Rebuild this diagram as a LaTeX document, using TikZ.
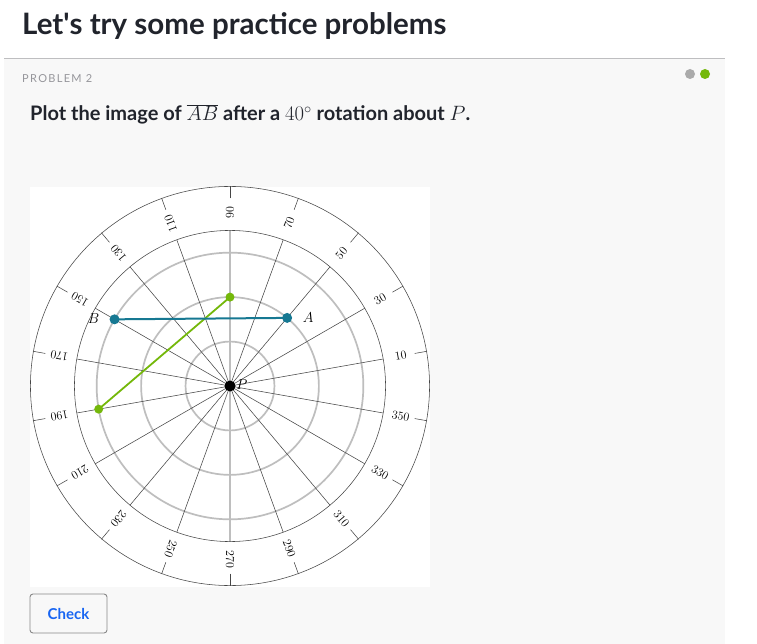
\documentclass[tikz,border=0pt]{standalone}
\usepackage{fontspec}
\setmainfont{Lato}
\definecolor{cardbg}{RGB}{248,248,248}
\definecolor{rulegray}{RGB}{190,190,192}
\definecolor{titlec}{RGB}{33,36,44}
\definecolor{labgray}{RGB}{150,150,155}
\definecolor{dotgray}{RGB}{170,170,170}
\definecolor{kagreen}{RGB}{116,184,10}
\definecolor{kateal}{RGB}{22,120,146}
\definecolor{circgray}{RGB}{190,190,190}
\definecolor{linegray}{RGB}{70,70,70}
\definecolor{checkblue}{RGB}{24,101,242}
\definecolor{btnborder}{RGB}{136,136,136}
\tikzset{
  thinline/.style={draw=linegray, line width=0.55pt},
  gridring/.style={draw=circgray, line width=1.7pt},
  ptdot/.style={circle, inner sep=0pt, minimum size=9pt},
  anglab/.style={font=\fontsize{11.5}{13}\selectfont, inner sep=0pt, text=black},
  ptlab/.style={font=\fontsize{14}{16}\selectfont, inner sep=0pt}
}
\begin{document}
\begin{tikzpicture}[x=1pt,y=-1pt]
\useasboundingbox (0,0) rectangle (757,644);
\fill[white] (0,0) rectangle (757,644);
\fill[cardbg] (4,59) rectangle (725,644);
\draw[rulegray, line width=1pt] (4,59) -- (725,59);
\node[anchor=base west, inner sep=0pt, text=titlec, font=\fontsize{29.5}{34}\selectfont\bfseries] (title) at (22,34.3) {Let\textquotesingle s try some practice problems};
\node[anchor=base west, inner sep=0pt, text=labgray, font=\fontsize{11}{13}\selectfont\addfontfeature{LetterSpace=12}] (plabel) at (22,82.7) {PROBLEM 2};
\node[circle, fill=dotgray, inner sep=0pt, minimum size=10pt] (dotA) at (690,74) {};
\node[circle, fill=kagreen, inner sep=0pt, minimum size=10pt] (dotB) at (705,74) {};
\node[anchor=base west, inner sep=0pt, text=titlec, font=\fontsize{20}{24}\selectfont\bfseries] (question) at (30,121) {Plot the image of $\overline{AB}$ after a $40^\circ$ rotation about $P$.};
\fill[white] (30,187) rectangle (430,587);
\begin{scope}[shift={(230,386)}, x=44.444pt, y=44.444pt]
  \clip (-4.5,-4.5) rectangle (4.5,4.5);
  \foreach \r in {1,2,3} \draw[gridring] (0,0) circle (\r);
  \foreach \a in {10,30,...,350} {
    \draw[thinline] (0,0) -- (\a:3.5);
    \draw[thinline] (\a:4.22) -- (\a:4.5);
    \node[anchor=center, rotate=\a, anglab] (lab\a) at (\a:3.9) {$\a$};
  }
  \draw[draw=circgray, line width=1.5pt] (90:3.5) -- (270:3.5);
  \draw[thinline] (0,0) circle (3.5);
  \draw[thinline] (0,0) circle (4.49);
  \coordinate (P) at (0,0);
  \coordinate (A) at (50:2);
  \coordinate (B) at (150:3);
  \coordinate (A2) at (90:2);
  \coordinate (B2) at (190:3);
  \draw[kagreen, line width=1.8pt] (A2) -- (B2);
  \draw[kateal, line width=2pt] (A) -- (B);
  \node[ptdot, fill=kagreen] (A2dot) at (A2) {};
  \node[ptdot, fill=kagreen] (B2dot) at (B2) {};
  \node[ptdot, fill=kateal, minimum size=10pt] (Adot) at (A) {};
  \node[ptdot, fill=kateal, minimum size=10pt] (Bdot) at (B) {};
  \node[ptdot, fill=black, minimum size=11pt] (Pdot) at (P) {};
  \node[ptlab] (Alab) at ([xshift=21pt]A) {$A$};
  \node[ptlab] (Blab) at ([xshift=-21pt,yshift=1pt]B) {$B$};
  \node[ptlab] (Plab) at ([xshift=12pt,yshift=1pt]P) {$P$};
\end{scope}
\node[draw=btnborder, line width=0.9pt, rounded corners=3pt, minimum width=77pt, minimum height=39pt, text=checkblue, font=\fontsize{15}{18}\selectfont\bfseries] (check) at (68.5,613.5) {Check};
\end{tikzpicture}
\end{document}
